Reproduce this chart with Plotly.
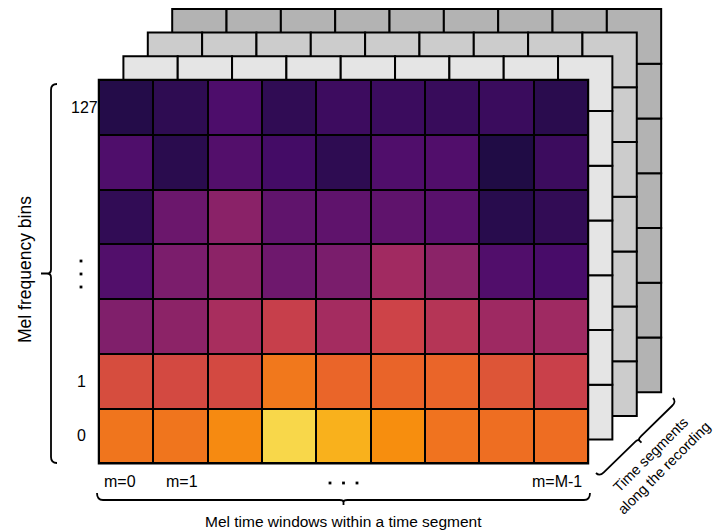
import numpy as np
import plotly.graph_objects as go

# ---------------- data ----------------
# Mel-spectrogram intensities (fraction of the Inferno scale), rows listed top (bin 127) -> bottom (bin 0)
row_bin127 = [0.132, 0.156, 0.229, 0.161, 0.191, 0.187, 0.179, 0.184, 0.146]
row_upper2 = [0.234, 0.146, 0.244, 0.208, 0.156, 0.236, 0.239, 0.123, 0.189]
row_upper3 = [0.163, 0.302, 0.377, 0.275, 0.273, 0.273, 0.258, 0.142, 0.165]
row_middle = [0.241, 0.340, 0.382, 0.309, 0.338, 0.434, 0.380, 0.239, 0.218]
row_lower3 = [0.353, 0.382, 0.452, 0.534, 0.442, 0.549, 0.486, 0.427, 0.429]
row_bin1 = [0.582, 0.571, 0.571, 0.700, 0.654, 0.652, 0.654, 0.606, 0.539]
row_bin0 = [0.694, 0.694, 0.740, 0.903, 0.823, 0.749, 0.689, 0.678, 0.676]

bin_tick_rows = [6, 1, 0]            # row index (from bottom) that carries a label
bin_tick_text = ["127", "1", "0"]
window_tick_text = ["m=0", "m=1", "m=M-1"]
window_tick_px = [120, 182, 557]

back_layer_colors = ["#e5e5e5", "#cccccc", "#b3b3b3"]   # nearest -> farthest

y_title = "Mel frequency bins"
x_title = "Mel time windows within a time segment"
seg_title = "Time segments<br>along the recording"

# ---------------- geometry ----------------
W, H = 716, 532
X0_PX, CW_PX = 99.0, 54.33          # front grid left edge and cell width (px)
YB_PX, CH_PX = 463.3, 54.76         # front grid bottom edge and cell height (px)
LAYER_DX_PX, LAYER_DY_PX = 24.4, 23.7
FONT = "Liberation Sans, Arial, Helvetica, sans-serif"

z = np.array([row_bin0, row_bin1, row_lower3, row_middle, row_upper3, row_upper2, row_bin127])
n_rows, n_cols = z.shape


def dx(px):  # px -> x data
    return (px - X0_PX) / CW_PX


def dy(py):  # px -> y data
    return (YB_PX - py) / CH_PX


def paper(p):
    return p[0] / W, 1 - p[1] / H


fig = go.Figure()
shapes = []

# stacked back layers (farthest first)
ldx = LAYER_DX_PX / CW_PX
ldy = LAYER_DY_PX / CH_PX
for k in range(len(back_layer_colors), 0, -1):
    col = back_layer_colors[k - 1]
    for r in range(n_rows):
        for c in range(n_cols):
            shapes.append(dict(type="rect", xref="x", yref="y", layer="below",
                               x0=c + k * ldx, x1=c + 1 + k * ldx,
                               y0=r + k * ldy, y1=r + 1 + k * ldy,
                               fillcolor=col, line=dict(color="black", width=2)))

# black backing of the front grid (shows through heatmap gaps)
shapes.append(dict(type="rect", xref="x", yref="y", layer="below",
                   x0=0, x1=n_cols, y0=0, y1=n_rows,
                   fillcolor="black", line=dict(color="black", width=2.5)))

fig.add_trace(go.Heatmap(
    z=z, x=np.arange(n_cols + 1), y=np.arange(n_rows + 1),
    colorscale="Inferno", zmin=0, zmax=1, showscale=False,
    xgap=2, ygap=2, hoverinfo="skip"))


# ---------------- braces ----------------
def brace(p0, p1, hook, join, stub, r=6.0, r2=4.0):
    p0 = np.array(p0, float)
    p1 = np.array(p1, float)
    L = np.linalg.norm(p1 - p0)
    u = (p1 - p0) / L
    n = np.array([-u[1], u[0]])

    def P(s, t):
        q = p0 + s * u + t * n
        x, y = paper(q)
        return f"{x:.5f},{y:.5f}"

    m = L / 2
    d = (f"M{P(0,0)} Q{P(0,hook)} {P(r,hook)} L{P(m-r2,hook)} "
         f"Q{P(m,hook)} {P(m,hook+join)} L{P(m,hook+join+stub)} "
         f"M{P(m,hook+join)} Q{P(m,hook)} {P(m+r2,hook)} "
         f"L{P(L-r,hook)} Q{P(L,hook)} {P(L,0)}")
    return dict(type="path", xref="paper", yref="paper", path=d,
                line=dict(color="black", width=1.8), layer="above")


shapes.append(brace((57, 84), (57, 463), hook=6, join=4, stub=6))
shapes.append(brace((97, 493), (590, 493), hook=7, join=2, stub=3))
shapes.append(brace((596, 473), (673, 398), hook=5, join=2, stub=3))

# ellipsis dots
for (cx, cy) in [(81, 261), (81, 274), (81, 287), (330, 483), (343.5, 483), (357, 483)]:
    x0, y0 = paper((cx - 1.4, cy + 1.4))
    x1, y1 = paper((cx + 1.4, cy - 1.4))
    shapes.append(dict(type="rect", xref="paper", yref="paper", x0=x0, x1=x1, y0=y0, y1=y1,
                       fillcolor="black", line=dict(width=0)))

# ---------------- text ----------------
ann = []
tick_x = {"127": 84, "1": 81, "0": 81}
for rr, t in zip(bin_tick_rows, bin_tick_text):
    ann.append(dict(x=dx(tick_x[t]), y=rr + 0.5, xref="x", yref="y", text=t, showarrow=False,
                    xanchor="center", yanchor="middle", font=dict(size=16, family=FONT, color="black")))
for px, t in zip(window_tick_px, window_tick_text):
    ann.append(dict(x=dx(px), y=dy(481), xref="x", yref="y", text=t, showarrow=False,
                    xanchor="center", yanchor="middle", font=dict(size=16, family=FONT, color="black")))
ann.append(dict(x=25 / W, y=1 - 270 / H, xref="paper", yref="paper", text=y_title, showarrow=False,
                textangle=-90, xanchor="center", yanchor="middle",
                font=dict(size=17.5, family=FONT, color="black")))
ann.append(dict(x=343 / W, y=1 - 521 / H, xref="paper", yref="paper", text=x_title, showarrow=False,
                xanchor="center", yanchor="middle", font=dict(size=15.5, family=FONT, color="black")))
ann.append(dict(x=657 / W, y=1 - 461 / H, xref="paper", yref="paper", text=seg_title, showarrow=False,
                textangle=-45, xanchor="center", yanchor="middle", align="center",
                font=dict(size=14.5, family=FONT, color="black")))

fig.update_layout(
    width=W, height=H, margin=dict(l=0, r=0, t=0, b=0),
    paper_bgcolor="white", plot_bgcolor="white",
    xaxis=dict(range=[dx(0), dx(W)], visible=False, fixedrange=True),
    yaxis=dict(range=[dy(H), dy(0)], visible=False, fixedrange=True),
    shapes=shapes, annotations=ann, showlegend=False,
)

fig.write_html("out.html", config={"displayModeBar": False},
               post_script="document.body.style.margin='0px';")
